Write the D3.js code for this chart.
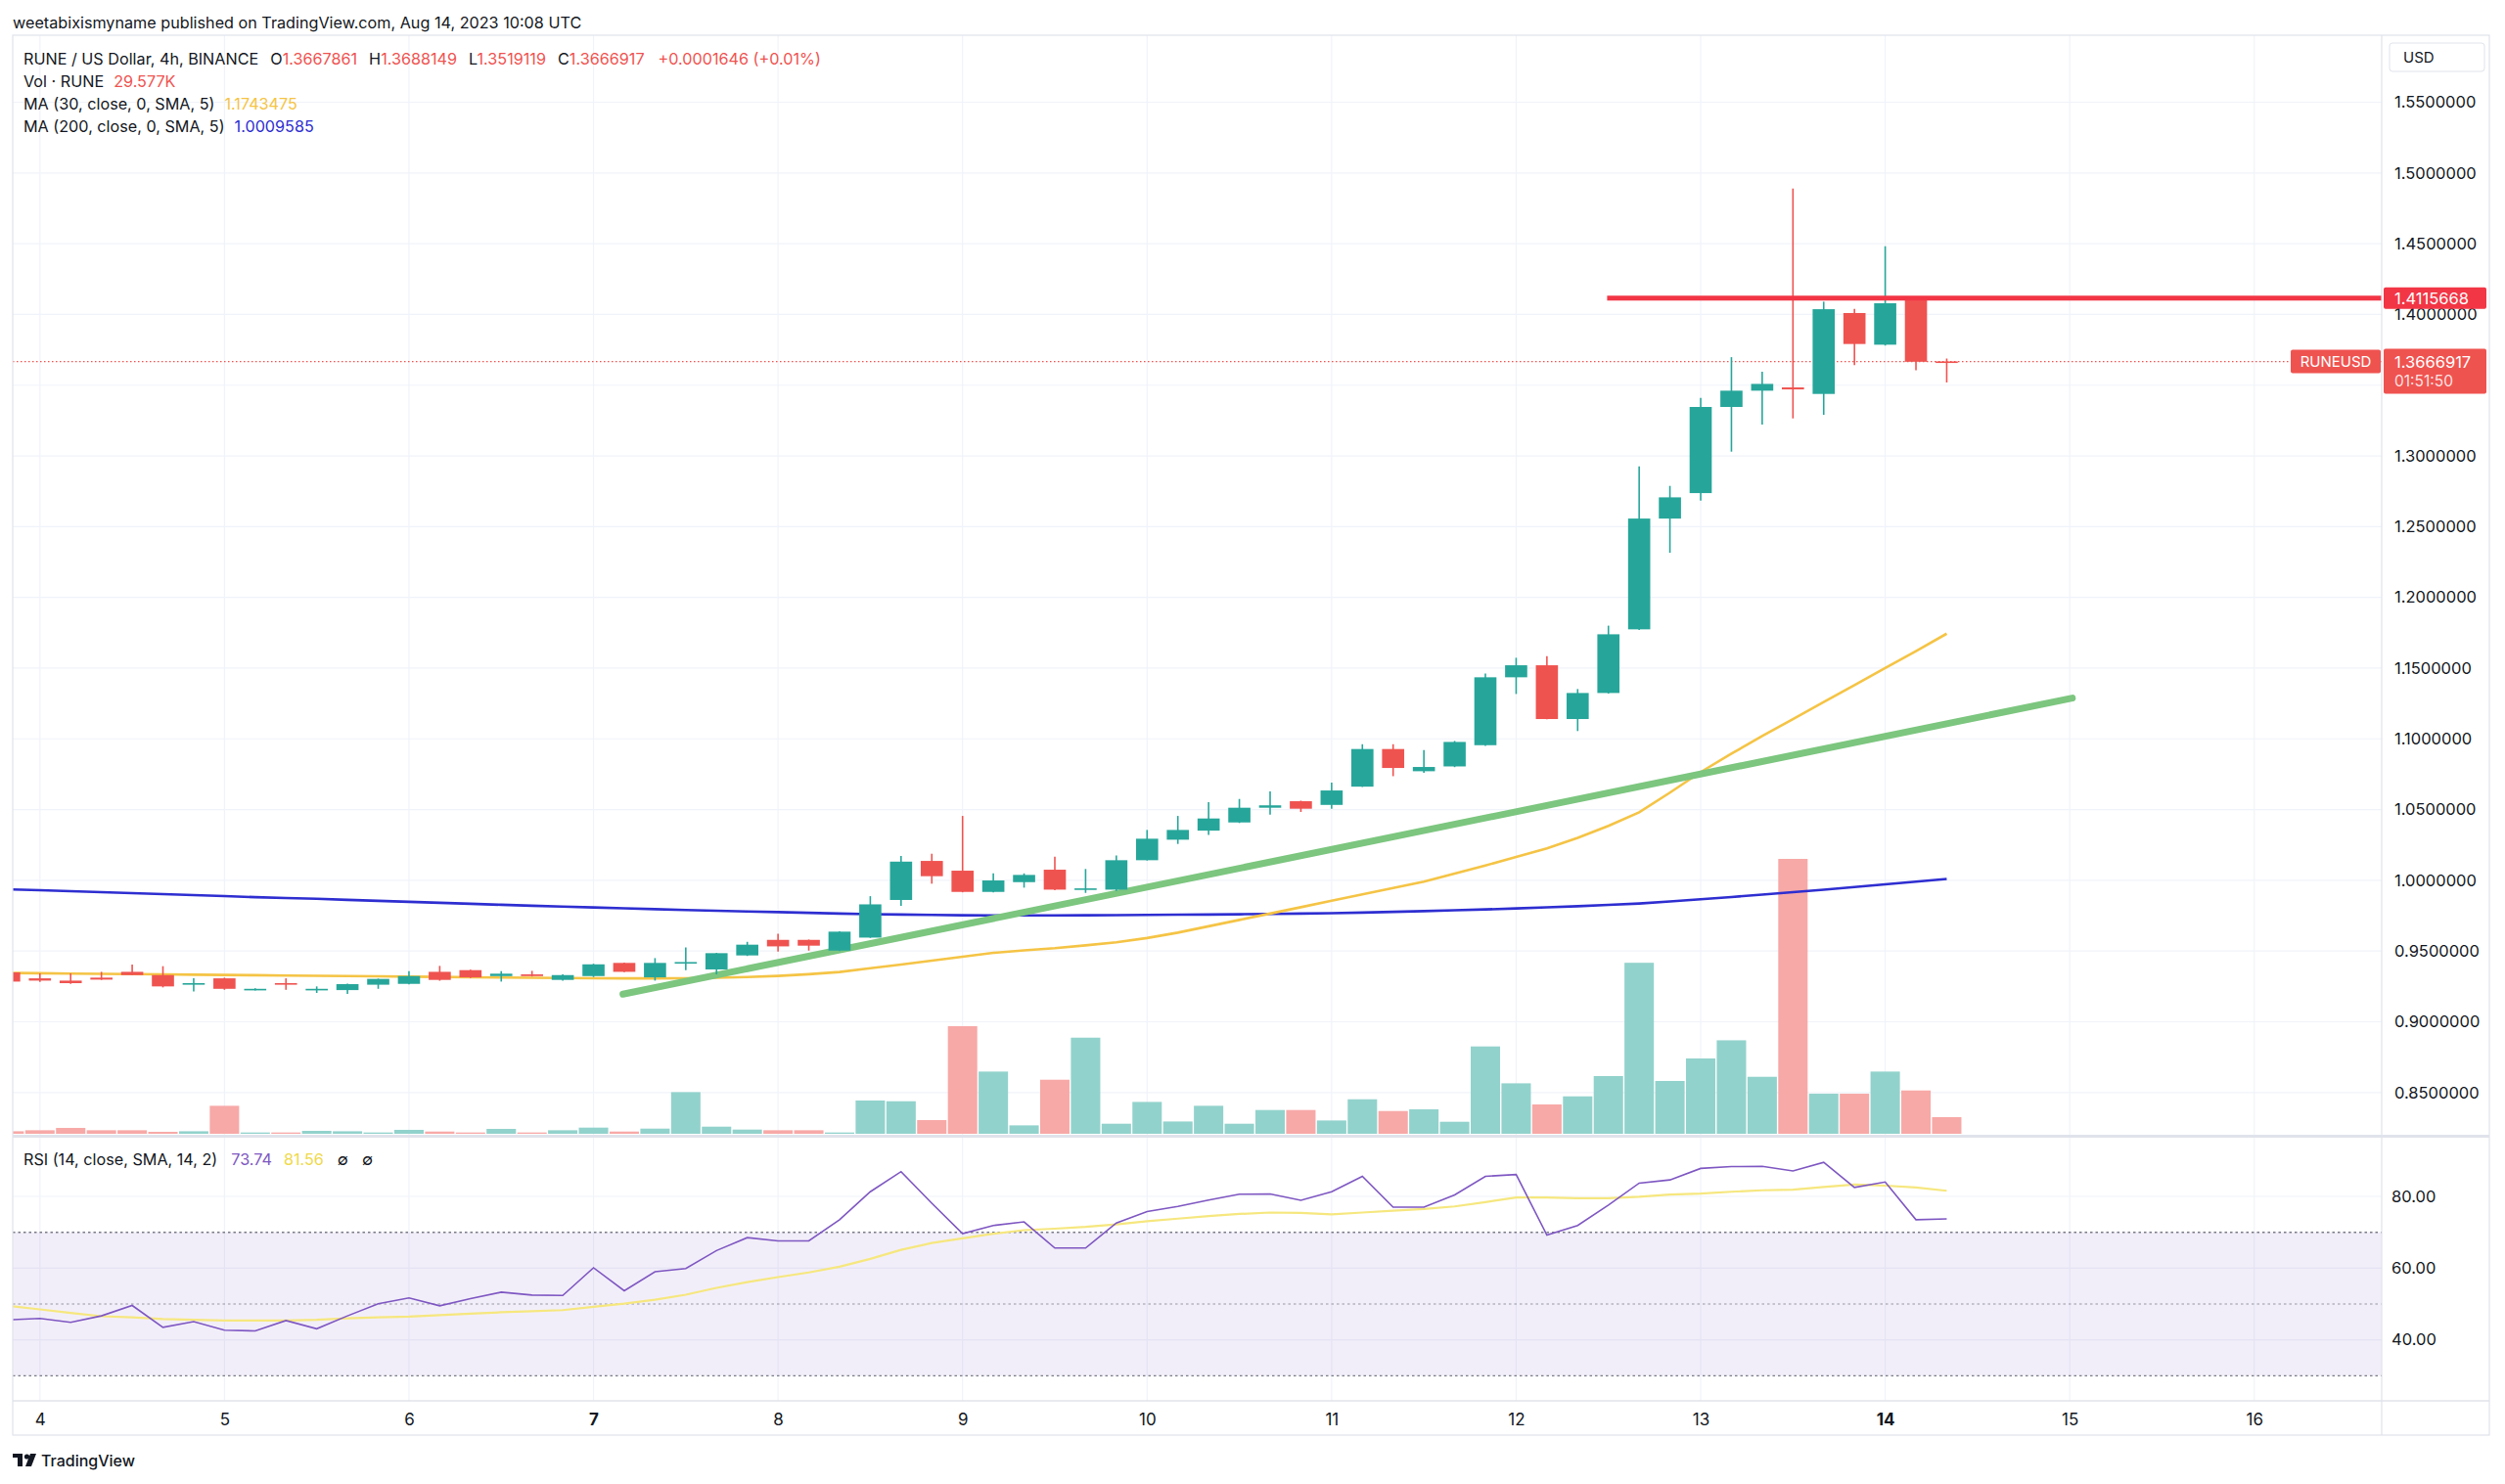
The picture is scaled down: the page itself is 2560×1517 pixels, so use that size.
<!DOCTYPE html>
<html>
<head>
<meta charset="utf-8">
<script src="https://cdn.jsdelivr.net/npm/d3@7"></script>
<style>
  body { margin: 0; background: #fff; }
</style>
</head>
<body>
<svg id="chart" width="2560" height="1517"></svg>
<script>
// RUNE / USD 4h candles, Aug 3 20:00 UTC .. Aug 14 08:00 UTC
const startTime = Date.UTC(2023, 7, 3, 20);
const barHours = 4;

const opens = [0.9349,0.9307,0.9291,0.9312,0.9353,0.9330,0.9264,0.9307,0.9224,0.9273,
  0.9224,0.9224,0.9262,0.9268,0.9353,0.9365,0.9323,0.9335,0.9296,0.9323,
  0.9416,0.9314,0.9413,0.9370,0.9469,0.9579,0.9579,0.9503,0.9595,0.9861,
  1.0137,1.0068,0.9918,0.9987,1.0075,0.9934,0.9934,1.0142,1.0287,1.0351,
  1.0409,1.0513,1.0559,1.0533,1.0662,1.0928,1.0771,1.0805,1.0955,1.1435,
  1.1520,1.1140,1.1324,1.1774,1.2557,1.2737,1.3346,1.3461,1.3484,1.3438,
  1.4010,1.3786,1.4120,1.3667861];
const highs = [0.9352,0.9342,0.9342,0.9353,0.9404,0.9393,0.9307,0.9312,0.9236,0.9307,
  0.9250,0.9270,0.9305,0.9358,0.9395,0.9368,0.9358,0.9360,0.9335,0.9410,
  0.9418,0.9450,0.9526,0.9487,0.9565,0.9623,0.9581,0.9639,0.9888,1.0172,
  1.0188,1.0455,1.0049,1.0049,1.0167,1.0080,1.0176,1.0356,1.0455,1.0552,
  1.0575,1.0628,1.0563,1.0690,1.0962,1.0962,1.0920,1.0985,1.1462,1.1573,
  1.1585,1.1352,1.1800,1.2926,1.2788,1.3410,1.3698,1.3595,1.4890,1.4090,
  1.4040,1.4482,1.4125,1.3688149];
const lows = [0.9280,0.9282,0.9268,0.9296,0.9330,0.9243,0.9215,0.9226,0.9221,0.9226,
  0.9204,0.9197,0.9233,0.9265,0.9290,0.9310,0.9284,0.9320,0.9290,0.9316,
  0.9351,0.9291,0.9365,0.9335,0.9465,0.9496,0.9503,0.9500,0.9593,0.9819,
  0.9976,0.9915,0.9915,0.9948,0.9930,0.9911,0.9925,1.0140,1.0257,1.0321,
  1.0405,1.0464,1.0483,1.0506,1.0660,1.0736,1.0760,1.0800,1.0950,1.1317,
  1.1138,1.1055,1.1320,1.1770,1.2315,1.2684,1.3030,1.3221,1.3265,1.3290,
  1.3641,1.3780,1.3606,1.3519119];
const closes = [0.9284,0.9291,0.9273,0.9298,0.9330,0.9250,0.9273,0.9233,0.9233,0.9264,
  0.9233,0.9266,0.9303,0.9323,0.9296,0.9314,0.9340,0.9323,0.9330,0.9406,
  0.9353,0.9416,0.9422,0.9485,0.9545,0.9533,0.9538,0.9637,0.9830,1.0132,
  1.0029,0.9918,0.9999,1.0038,0.9934,0.9943,1.0142,1.0294,1.0356,1.0437,
  1.0513,1.0530,1.0506,1.0635,1.0928,1.0794,1.0801,1.0978,1.1435,1.1520,
  1.1140,1.1324,1.1739,1.2557,1.2707,1.3346,1.3461,1.3509,1.3470,1.4037,
  1.3791,1.4079,1.3665271,1.3666917];
// volume in thousands of RUNE
const volumes = [4.5,6.3,10.4,6.3,6.3,3.5,4.5,49.8,2.3,2.3,
  5.2,4.5,2.3,7.0,4.0,2.3,8.7,2.3,6.3,11.0,
  4.0,9.2,74.1,12.7,7.5,6.3,6.3,2.3,59.2,57.9,
  24.4,191.4,110.7,15.0,96.2,171.0,17.9,56.7,21.9,49.8,
  17.9,42.3,42.3,23.7,61.4,40.5,43.5,21.4,155.4,89.8,
  52.2,66.6,102.7,304.2,94.0,134.0,166.3,101.4,489.0,71.3,
  71.3,110.7,77.1,29.577];
const ma30 = [0.9345,0.9343,0.9341,0.9339,0.9337,0.9335,0.9333,0.9331,0.9329,0.9327,
  0.9325,0.9323,0.9321,0.9319,0.9317,0.9315,0.9313,0.9311,0.9309,0.9308,
  0.9307,0.9307,0.9308,0.9311,0.9316,0.9324,0.9336,0.9352,0.9378,0.9405,
  0.9432,0.9460,0.9487,0.9505,0.9520,0.9540,0.9562,0.9592,0.9630,0.9675,
  0.9720,0.9765,0.9810,0.9855,0.9900,0.9945,0.9990,1.0047,1.0105,1.0165,
  1.0225,1.0300,1.0385,1.0480,1.0620,1.0765,1.0895,1.1020,1.1140,1.1260,
  1.1380,1.1500,1.1620,1.1743475];
const ma200 = [0.9936,0.9930,0.9923,0.9916,0.9909,0.9902,0.9895,0.9888,0.9881,0.9875,
  0.9869,0.9862,0.9855,0.9848,0.9841,0.9834,0.9827,0.9820,0.9814,0.9808,
  0.9802,0.9796,0.9790,0.9785,0.9780,0.9775,0.9770,0.9765,0.9761,0.9758,
  0.9755,0.9753,0.9752,0.9752,0.9752,0.9753,0.9754,0.9755,0.9757,0.9758,
  0.9760,0.9762,0.9765,0.9768,0.9772,0.9777,0.9782,0.9788,0.9794,0.9801,
  0.9809,0.9817,0.9826,0.9836,0.9850,0.9866,0.9882,0.9899,0.9916,0.9933,
  0.9952,0.9971,0.9990,1.0009585];
const rsi = [45.6,46.0,44.9,46.7,49.6,43.5,45.1,42.7,42.5,45.4,
  43.1,46.7,50.1,51.7,49.5,51.5,53.3,52.5,52.4,60.1,
  53.7,59.0,59.9,64.9,68.5,67.6,67.6,73.5,81.3,86.9,
  78.1,69.6,71.9,72.9,65.6,65.6,72.6,75.8,77.2,79.0,
  80.6,80.7,78.9,81.3,85.6,77.0,77.0,80.4,85.6,86.1,
  69.2,71.9,77.6,83.7,84.6,87.8,88.3,88.4,87.1,89.5,
  82.5,84.0,73.5,73.74];
const rsiMa = [49.5,48.5,47.5,46.6,46.3,45.8,45.6,45.4,45.4,45.4,
  45.6,46.0,46.3,46.5,46.9,47.3,47.7,48.0,48.3,49.2,
  50.1,51.2,52.6,54.5,56.1,57.5,58.8,60.4,62.6,65.1,
  67.0,68.3,69.6,70.6,71.0,71.5,72.2,73.1,73.8,74.5,
  75.1,75.5,75.4,75.0,75.5,76.0,76.5,77.2,78.4,79.7,
  79.7,79.5,79.5,79.9,80.5,80.8,81.3,81.7,81.9,82.6,
  83.3,83.0,82.5,81.56];

const priceTicks = [0.85,0.90,0.95,1.00,1.05,1.10,1.15,1.20,1.25,1.30,1.35,1.40,1.45,1.50,1.55];
const rsiTicks = [40, 60, 80];
const rsiLevels = [70, 50, 30];
const dayTicks = [4,5,6,7,8,9,10,11,12,13,14,15,16];
const boldDays = [7, 14];

// drawings
const resistance = { price: 1.4115668, from: Date.UTC(2023, 7, 12, 11, 50) };
const trendline = [
  { t: Date.UTC(2023, 7, 7, 3, 50), p: 0.9195 },
  { t: Date.UTC(2023, 7, 15, 0, 20), p: 1.1288 }
];
const countdown = "01:51:50";

const FONT = "Inter, 'Liberation Sans', sans-serif";
const ink = "#131722", up = "#26a69a", down = "#ef5350";
const upVol = "#92d2cc", downVol = "#f7a9a7";
const gridCol = "#f0f3fa", lineCol = "#e0e3eb";

const plotL = 13, plotR = 2434, chartR = 2544;
const priceTop = 36, priceBot = 1160;
const rsiTop = 1163, rsiBot = 1432, axisBot = 1467;

const svg = d3.select("#chart");
svg.append("rect").attr("width", 2560).attr("height", 1517).attr("fill", "#fff");

const x = d3.scaleUtc()
  .domain([Date.UTC(2023, 7, 4), Date.UTC(2023, 7, 14)])
  .range([40.8, 1926.6]);
const y = d3.scaleLinear().domain([0.85, 1.55]).range([1116.8, 104.5]);
const yVol = d3.scaleLinear().domain([0, d3.max(volumes)]).range([1159, 878]);
const yRsi = d3.scaleLinear().domain([40, 80]).range([1369.7, 1223]);

const bars = opens.map((o, i) => ({
  t: new Date(startTime + i * barHours * 3600e3),
  o: o, h: highs[i], l: lows[i], c: closes[i], v: volumes[i]
}));
const step = x(bars[1].t) - x(bars[0].t);
const fmt7 = d3.format(".7f");
const dayDates = dayTicks.map(d => new Date(Date.UTC(2023, 7, d)));
const n = closes.length - 1;
const lastClose = closes[n];

const defs = svg.append("defs");
defs.append("clipPath").attr("id", "clipPrice").append("rect")
  .attr("x", plotL).attr("y", priceTop).attr("width", plotR - plotL).attr("height", priceBot - priceTop);
defs.append("clipPath").attr("id", "clipRsi").append("rect")
  .attr("x", plotL).attr("y", rsiTop).attr("width", plotR - plotL).attr("height", rsiBot - rsiTop);

// grid
const grid = svg.append("g").attr("stroke", gridCol).attr("stroke-width", 1.2);
grid.selectAll(".vg").data(dayDates).join("line")
  .attr("x1", d => x(d)).attr("x2", d => x(d))
  .attr("y1", priceTop).attr("y2", rsiBot);
grid.selectAll(".hg").data(priceTicks).join("line")
  .attr("x1", plotL).attr("x2", plotR)
  .attr("y1", d => y(d)).attr("y2", d => y(d));
grid.selectAll(".rg").data(rsiTicks).join("line")
  .attr("x1", plotL).attr("x2", plotR)
  .attr("y1", d => yRsi(d)).attr("y2", d => yRsi(d));

// price pane
const price = svg.append("g").attr("clip-path", "url(#clipPrice)");

price.selectAll(".vol").data(bars).join("rect")
  .attr("x", d => x(d.t) - step / 2 + 0.7)
  .attr("width", step - 1.4)
  .attr("y", d => yVol(d.v))
  .attr("height", d => yVol(0) - yVol(d.v))
  .attr("fill", d => d.c >= d.o ? upVol : downVol);

const lineP = arr => d3.line().x((d, i) => x(bars[i].t)).y(d => y(d))(arr);
price.append("path").attr("d", lineP(ma200))
  .attr("fill", "none").attr("stroke", "#2e2ed1").attr("stroke-width", 2.6);
price.append("path").attr("d", lineP(ma30))
  .attr("fill", "none").attr("stroke", "#f5c445").attr("stroke-width", 2.6);

price.append("line")
  .attr("x1", x(trendline[0].t)).attr("y1", y(trendline[0].p))
  .attr("x2", x(trendline[1].t)).attr("y2", y(trendline[1].p))
  .attr("stroke", "#7cc67f").attr("stroke-width", 7).attr("stroke-linecap", "round");

price.append("line")
  .attr("x1", plotL).attr("x2", plotR)
  .attr("y1", y(lastClose)).attr("y2", y(lastClose))
  .attr("stroke", down).attr("stroke-width", 1.3).attr("stroke-dasharray", "1.5,2.5");

const candles = price.selectAll(".candle").data(bars).join("g")
  .attr("fill", d => d.c >= d.o ? up : down)
  .attr("stroke", d => d.c >= d.o ? up : down);
candles.append("line")
  .attr("x1", d => x(d.t)).attr("x2", d => x(d.t))
  .attr("y1", d => y(d.h)).attr("y2", d => y(d.l))
  .attr("stroke-width", 1.6);
candles.append("rect")
  .attr("stroke", "none")
  .attr("x", d => x(d.t) - step * 0.36)
  .attr("width", step * 0.72)
  .attr("y", d => y(Math.max(d.o, d.c)))
  .attr("height", d => Math.max(1.6, Math.abs(y(d.o) - y(d.c))));

price.append("line")
  .attr("x1", x(resistance.from)).attr("x2", plotR)
  .attr("y1", y(resistance.price)).attr("y2", y(resistance.price))
  .attr("stroke", "#f23645").attr("stroke-width", 5);

// RSI pane
const rp = svg.append("g").attr("clip-path", "url(#clipRsi)");
rp.append("rect")
  .attr("x", plotL).attr("width", plotR - plotL)
  .attr("y", yRsi(70)).attr("height", yRsi(30) - yRsi(70))
  .attr("fill", "rgba(126,87,194,0.1)");
rp.selectAll(".lvl").data(rsiLevels).join("line")
  .attr("x1", plotL).attr("x2", plotR)
  .attr("y1", d => yRsi(d)).attr("y2", d => yRsi(d))
  .attr("stroke", "#787b86").attr("stroke-width", 1.4)
  .attr("stroke-dasharray", "2.5,3")
  .attr("opacity", d => d === 50 ? 0.5 : 1);
const lineR = arr => d3.line().x((d, i) => x(bars[i].t)).y(d => yRsi(d))(arr);
rp.append("path").attr("d", lineR(rsiMa))
  .attr("fill", "none").attr("stroke", "#f6e77e").attr("stroke-width", 2.2);
rp.append("path").attr("d", lineR(rsi))
  .attr("fill", "none").attr("stroke", "#7e57c2").attr("stroke-width", 1.6);

// frame
const frame = svg.append("g").attr("stroke", lineCol).attr("fill", "none");
frame.append("rect").attr("x", plotL).attr("y", priceTop)
  .attr("width", chartR - plotL).attr("height", axisBot - priceTop).attr("stroke-width", 1.2);
frame.append("line").attr("x1", plotR).attr("x2", plotR)
  .attr("y1", priceTop).attr("y2", axisBot).attr("stroke-width", 1.2);
frame.append("line").attr("x1", plotL).attr("x2", chartR)
  .attr("y1", 1161.5).attr("y2", 1161.5).attr("stroke-width", 3);
frame.append("line").attr("x1", plotL).attr("x2", chartR)
  .attr("y1", rsiBot).attr("y2", rsiBot).attr("stroke-width", 1.5);

// axes
function styleAxis(g, size) {
  g.attr("font-family", FONT).attr("font-size", size).style("color", ink);
  g.select(".domain").remove();
}
// the last-price badge hides the tick label it sits on
const shownPriceTicks = priceTicks.filter(p => Math.abs(y(p) - (y(lastClose) + 10)) > 30);
svg.append("g").attr("transform", `translate(${plotR},0)`)
  .call(d3.axisRight(y).tickValues(shownPriceTicks).tickFormat(fmt7).tickSize(0).tickPadding(13))
  .call(g => styleAxis(g, 16.5));
svg.append("g").attr("transform", `translate(${plotR},0)`)
  .call(d3.axisRight(yRsi).tickValues(rsiTicks).tickFormat(d3.format(".2f")).tickSize(0).tickPadding(10))
  .call(g => styleAxis(g, 16.5));
svg.append("g").attr("transform", `translate(0,${rsiBot})`)
  .call(d3.axisBottom(x).tickValues(dayDates).tickFormat(d => d.getUTCDate()).tickSize(0).tickPadding(13))
  .call(g => styleAxis(g, 17))
  .selectAll("text")
  .attr("font-weight", d => boldDays.includes(d.getUTCDate()) ? 700 : 400);

// price labels on the axis
const lab = svg.append("g").attr("font-family", FONT).attr("fill", "#fff");
const yl = y(lastClose);
lab.append("rect").attr("x", 2341).attr("y", yl - 12).attr("width", 92).attr("height", 24)
  .attr("rx", 2).attr("fill", down);
lab.append("text").attr("x", 2387).attr("y", yl).attr("text-anchor", "middle")
  .attr("dominant-baseline", "central").attr("font-size", 15).text("RUNEUSD");
lab.append("rect").attr("x", plotR + 2).attr("y", yl - 13).attr("width", 105).attr("height", 46)
  .attr("rx", 2).attr("fill", down);
lab.append("text").attr("x", plotR + 13).attr("y", yl).attr("dominant-baseline", "central")
  .attr("font-size", 16.5).text(fmt7(lastClose));
lab.append("text").attr("x", plotR + 13).attr("y", yl + 20).attr("dominant-baseline", "central")
  .attr("font-size", 15.5).attr("fill-opacity", 0.85).text(countdown);
const yr = y(resistance.price);
lab.append("rect").attr("x", plotR + 2).attr("y", yr - 11).attr("width", 105).attr("height", 22)
  .attr("rx", 2).attr("fill", "#f23645");
lab.append("text").attr("x", plotR + 13).attr("y", yr).attr("dominant-baseline", "central")
  .attr("font-size", 16.5).text(fmt7(resistance.price));

// USD box
svg.append("rect").attr("x", 2442).attr("y", 44).attr("width", 97).attr("height", 29)
  .attr("rx", 3).attr("fill", "#fff").attr("stroke", lineCol);
svg.append("text").attr("x", 2456).attr("y", 58.5).attr("dominant-baseline", "central")
  .attr("font-family", FONT).attr("font-size", 15).attr("fill", ink).text("USD");

// legends
const legend = svg.append("g").attr("font-family", FONT).attr("font-size", 16.2).attr("fill", ink);
function legendLine(xp, yp, parts) {
  const t = legend.append("text").attr("x", xp).attr("y", yp).attr("dominant-baseline", "central");
  parts.forEach(p => t.append("tspan").attr("fill", p[1]).attr("dx", p[2] || 0).text(p[0]));
}
legendLine(13, 23, [["weetabixismyname published on TradingView.com, Aug 14, 2023 10:08 UTC", ink]]);
const chg = closes[n] - closes[n - 1];
const chgTxt = (chg >= 0 ? "+" : "") + chg.toFixed(7) + " (" + (chg >= 0 ? "+" : "") + (chg / closes[n - 1] * 100).toFixed(2) + "%)";
const ohlcCol = closes[n] >= opens[n] ? up : down;
legendLine(24, 60, [
  ["RUNE / US Dollar, 4h, BINANCE", ink],
  ["O", ink, 12], [fmt7(opens[n]), ohlcCol],
  ["H", ink, 12], [fmt7(highs[n]), ohlcCol],
  ["L", ink, 12], [fmt7(lows[n]), ohlcCol],
  ["C", ink, 12], [fmt7(closes[n]), ohlcCol],
  [chgTxt, ohlcCol, 14]
]);
legendLine(24, 83, [["Vol · RUNE", ink], [d3.format(".3f")(volumes[n]) + "K", down, 10]]);
legendLine(24, 106, [["MA (30, close, 0, SMA, 5)", ink], [fmt7(ma30[n]), "#f5c445", 10]]);
legendLine(24, 129, [["MA (200, close, 0, SMA, 5)", ink], [fmt7(ma200[n]), "#2e2ed1", 10]]);
legendLine(24, 1185, [
  ["RSI (14, close, SMA, 14, 2)", ink],
  [rsi[n].toFixed(2), "#7e57c2", 14],
  [rsiMa[n].toFixed(2), "#efd94a", 12],
  ["\u2205", ink, 14], ["\u2205", ink, 14]
]);

// footer logo
const logo = svg.append("g").attr("fill", ink);
logo.append("rect").attr("x", 13).attr("y", 1486).attr("width", 10).attr("height", 4);
logo.append("rect").attr("x", 18).attr("y", 1486).attr("width", 5).attr("height", 13);
logo.append("circle").attr("cx", 27.5).attr("cy", 1489).attr("r", 2.6);
logo.append("path").attr("d", "M31,1486 L37,1486 L32,1499 L26,1499 Z");
logo.append("text").attr("x", 42).attr("y", 1493).attr("dominant-baseline", "central")
  .attr("font-family", FONT).attr("font-size", 16).attr("font-weight", 500).text("TradingView");
</script>
</body>
</html>
